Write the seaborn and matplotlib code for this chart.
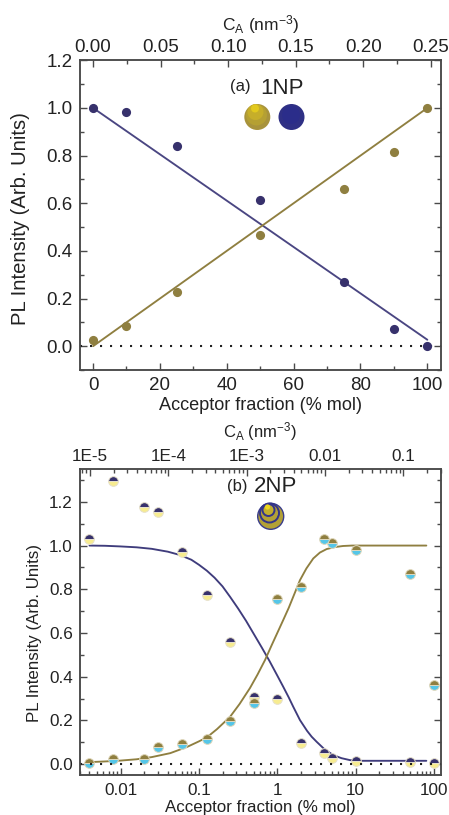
import matplotlib
matplotlib.use("Agg")
import matplotlib.pyplot as plt
import seaborn as sns
from matplotlib.patches import Circle
from matplotlib.transforms import IdentityTransform
from matplotlib.ticker import FixedLocator, FixedFormatter, MultipleLocator, NullFormatter, LogLocator

# ---------- data ----------
a_fraction = [0, 10, 25, 50, 75, 90, 100]
a_donor = [1.0, 0.984, 0.84, 0.615, 0.268, 0.074, 0.0]
a_acceptor = [0.025, 0.086, 0.228, 0.468, 0.66, 0.817, 1.0]
a_fit_x = [0, 100]
a_fit_donor = [1.0, 0.027]
a_fit_acceptor = [0.0, 1.0]

b_fraction = [0.004, 0.008, 0.02, 0.03, 0.06, 0.125, 0.25, 0.5, 1, 2, 4, 5, 10, 50, 100]
b_donor = [1.03, 1.295, 1.175, 1.155, 0.97, 0.775, 0.56, 0.305, 0.30, 0.095, 0.05, 0.03, 0.012, 0.008, 0.003]
b_acceptor = [0.003, 0.025, 0.025, 0.077, 0.09, 0.115, 0.195, 0.28, 0.757, 0.81, 1.03, 1.01, 0.98, 0.868, 0.36]

b_fit_donor_x = [0.004, 0.0063, 0.01, 0.016, 0.025, 0.04, 0.057, 0.08, 0.1, 0.126, 0.158, 0.2, 0.25, 0.316,
                 0.4, 0.5, 0.63, 0.794, 1.0, 1.19, 1.4, 1.6, 1.95, 2.4, 2.75, 3.18, 4.0, 5.19, 6.6, 8.5,
                 12, 30, 80]
b_fit_donor_y = [1.0, 0.999, 0.996, 0.992, 0.985, 0.972, 0.957, 0.935, 0.912, 0.885, 0.853, 0.813, 0.765, 0.712,
                 0.655, 0.596, 0.535, 0.472, 0.405, 0.354, 0.305, 0.262, 0.201, 0.152, 0.125, 0.102,
                 0.068, 0.041, 0.027, 0.018, 0.015, 0.015, 0.015]
b_fit_acc_x = [0.004, 0.0063, 0.01, 0.016, 0.025, 0.043, 0.07, 0.1, 0.126, 0.17, 0.249, 0.33, 0.448, 0.56, 0.697,
               0.85, 1.0, 1.19, 1.4, 1.65, 1.95, 2.35, 2.88, 3.5, 4.27, 5.4, 6.9, 9, 20, 80]
b_fit_acc_y = [0.009, 0.012, 0.016, 0.022, 0.032, 0.05, 0.078, 0.104, 0.122, 0.16, 0.216, 0.275, 0.348, 0.41, 0.476,
               0.545, 0.60, 0.659, 0.715, 0.778, 0.842, 0.895, 0.941, 0.968, 0.984, 0.993, 0.998, 1.0, 1.0, 1.0]

a_top_ticks = [0.00, 0.05, 0.10, 0.15, 0.20, 0.25]
a_top_labels = ["0.00", "0.05", "0.10", "0.15", "0.20", "0.25"]
b_bottom_ticks = [0.01, 0.1, 1, 10, 100]
b_bottom_labels = ["0.01", "0.1", "1", "10", "100"]
b_top_ticks = [1e-5, 1e-4, 1e-3, 1e-2, 1e-1]
b_top_labels = ["1E-5", "1E-4", "1E-3", "0.01", "0.1"]

# ---------- style ----------
NAVY = "#37316c"
OLIVE = "#8f7f40"
YELLOW = "#f7ec90"
CYAN = "#55c6e8"
INK = "#222222"
SPINE = "#4a4a4a"
sns.set_theme(style="ticks")
plt.rcParams.update({
    "font.family": ["Liberation Sans", "DejaVu Sans"],
    "mathtext.fontset": "custom",
    "mathtext.rm": "Liberation Sans",
    "mathtext.default": "regular",
    "text.color": INK, "axes.labelcolor": INK,
    "xtick.color": SPINE, "ytick.color": SPINE,
    "xtick.labelcolor": INK, "ytick.labelcolor": INK,
    "axes.edgecolor": SPINE, "axes.linewidth": 1.1,
})

W, H = 449, 815
fig = plt.figure(figsize=(W / 100, H / 100), dpi=100, facecolor="white")


def px_axes(left, top, right, bottom):
    return fig.add_axes([left / W, 1 - bottom / H, (right - left) / W, (bottom - top) / H])


def style_ticks(ax, size):
    ax.tick_params(axis="both", which="major", direction="in", length=5, width=1.0, labelsize=size, pad=3)
    ax.tick_params(axis="both", which="minor", direction="in", length=3, width=1.0)


def icon(x, y, r, color, **kw):
    c = Circle((x, H - y), r, transform=IdentityTransform(), facecolor=color, **kw)
    fig.add_artist(c)


def fit_line(ax, x, y, color):
    sns.lineplot(x=x, y=y, ax=ax, color=color, lw=1.35, estimator=None, errorbar=None, sort=False, legend=False)


def points(ax, x, y, face, alt=None, size=6.6, edge=None, mew=0.0):
    kw = dict(linestyle="", marker="o", markersize=size, color=face, markerfacecolor=face,
              markeredgecolor=edge or face, markeredgewidth=mew, zorder=4, clip_on=False)
    if alt is not None:
        kw.update(fillstyle="top", markerfacecoloralt=alt)
    sns.lineplot(x=x, y=y, ax=ax, estimator=None, errorbar=None, sort=False, legend=False, **kw)


# ---------- panel (a) ----------
ax = px_axes(79.7, 60.3, 440.7, 370)
ax.axhline(0, color="#222222", lw=1.5, ls=(0, (1, 3.8)), zorder=1)
fit_line(ax, a_fit_x, a_fit_donor, "#4a4682")
fit_line(ax, a_fit_x, a_fit_acceptor, OLIVE)
points(ax, a_fraction, a_donor, NAVY)
points(ax, a_fraction, a_acceptor, OLIVE)
ax.set_xlim(-4, 104)
ax.set_ylim(-0.1, 1.2)
ax.xaxis.set_major_locator(MultipleLocator(20))
ax.xaxis.set_minor_locator(MultipleLocator(10))
ax.set_yticks([0, 0.2, 0.4, 0.6, 0.8, 1.0, 1.2])
ax.set_yticklabels(["0.0", "0.2", "0.4", "0.6", "0.8", "1.0", "1.2"])
ax.yaxis.set_minor_locator(MultipleLocator(0.1))
style_ticks(ax, 13.5)
ax.tick_params(axis="y", right=True, which="both", pad=5)
ax.tick_params(axis="x", pad=5)
ax.set_xlabel("Acceptor fraction (% mol)", fontsize=13.1, labelpad=2)
ax.set_ylabel("PL Intensity (Arb. Units)", fontsize=14.6)
ax.yaxis.set_label_coords((30 - 79.7) / 361, 0.49)

top = ax.twiny()
top.set_xlim(-0.00985, 0.2574)
top.xaxis.set_major_locator(FixedLocator(a_top_ticks))
top.xaxis.set_major_formatter(FixedFormatter(a_top_labels))
top.xaxis.set_minor_locator(MultipleLocator(0.025))
style_ticks(top, 13.5)
top.set_xlabel(r"C$_{A}$ (nm$^{-3}$)", fontsize=12.5, labelpad=6)

fig.text(240 / W, 1 - 87 / H, "(a)", fontsize=12, ha="center", va="center")
fig.text(282 / W, 1 - 88 / H, "1NP", fontsize=16, ha="center", va="center")

# sphere icons
icon(257.3, 117, 13, "#a8933c", lw=0)
icon(256.5, 115, 10.5, "#b5a033", lw=0)
icon(255.5, 112, 8, "#c6ae2a", lw=0)
icon(255, 108.5, 4, "#e2c91e", lw=0)
icon(291.5, 117, 13, "#2f3085", lw=0)
icon(291, 115, 9, "#2b2d8a", lw=0)

# ---------- panel (b) ----------
ax2 = px_axes(79.7, 469.3, 440.7, 775)
ax2.set_xscale("log")
fit_line(ax2, b_fit_donor_x, b_fit_donor_y, "#3f3c7c")
fit_line(ax2, b_fit_acc_x, b_fit_acc_y, OLIVE)
points(ax2, b_fraction, b_donor, NAVY, YELLOW, size=7.0, edge="#e6e0cc", mew=0.7)
points(ax2, b_fraction, b_acceptor, OLIVE, CYAN, size=7.0, edge="#e0d8bc", mew=0.7)
ax2.axhline(0, color="#222222", lw=1.5, ls=(0, (1, 3.8)), zorder=5)
ax2.set_xlim(0.003, 122)
ax2.set_ylim(-0.05, 1.349)
ax2.xaxis.set_major_locator(FixedLocator(b_bottom_ticks))
ax2.xaxis.set_major_formatter(FixedFormatter(b_bottom_labels))
ax2.xaxis.set_minor_locator(LogLocator(base=10, subs=range(2, 10), numticks=20))
ax2.xaxis.set_minor_formatter(NullFormatter())
ax2.set_yticks([0, 0.2, 0.4, 0.6, 0.8, 1.0, 1.2])
ax2.set_yticklabels(["0.0", "0.2", "0.4", "0.6", "0.8", "1.0", "1.2"])
ax2.yaxis.set_minor_locator(MultipleLocator(0.1))
style_ticks(ax2, 12.3)
ax2.tick_params(axis="y", right=True, which="both", pad=5)
ax2.tick_params(axis="x", pad=6)
ax2.set_xlabel("Acceptor fraction (% mol)", fontsize=12.2, labelpad=1)
ax2.set_ylabel("PL Intensity (Arb. Units)", fontsize=12.2)
ax2.yaxis.set_label_coords((42 - 79.7) / 361, 0.465)

top2 = ax2.twiny()
top2.set_xscale("log")
top2.set_xlim(10 ** -5.131, 10 ** -0.522)
top2.xaxis.set_major_locator(FixedLocator(b_top_ticks))
top2.xaxis.set_major_formatter(FixedFormatter(b_top_labels))
top2.xaxis.set_minor_locator(LogLocator(base=10, subs=range(2, 10), numticks=20))
top2.xaxis.set_minor_formatter(NullFormatter())
style_ticks(top2, 12.3)
top2.tick_params(axis="x", pad=4)
top2.set_xlabel(r"C$_{A}$ (nm$^{-3}$)", fontsize=12, labelpad=8)

fig.text(237 / W, 1 - 486 / H, "(b)", fontsize=12, ha="center", va="center")
fig.text(276 / W, 1 - 486 / H, "2NP", fontsize=16, ha="center", va="center")

# layered-sphere icon
icon(270.7, 516.3, 13, "#b3a136", edgecolor="#3a3d8c", lw=1.0)
icon(269.5, 513, 9.5, "#b3a136", edgecolor="#33348a", lw=1.4)
icon(268.5, 510, 6, "#c2ae2c", edgecolor="#33348a", lw=1.4)
icon(267.5, 507, 2.6, "#ecd51e", lw=0)

fig.savefig("out.png", dpi=100, facecolor="white")
